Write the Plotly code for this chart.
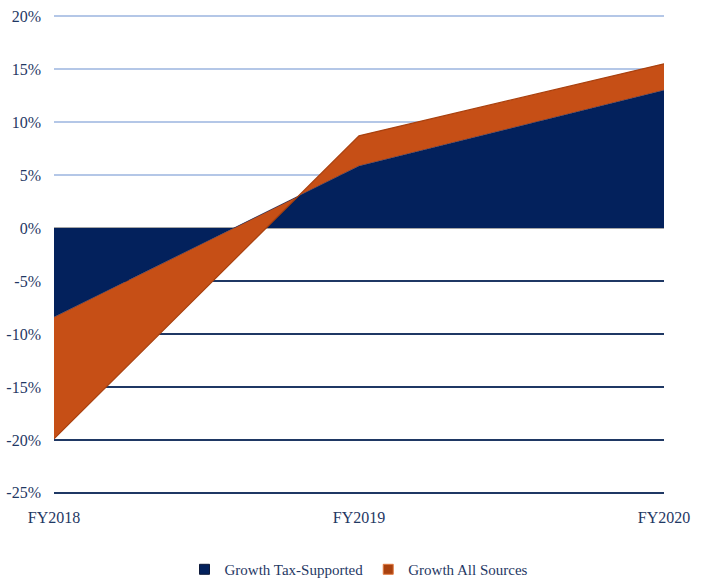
import plotly.graph_objects as go

categories = ["FY2018", "FY2019", "FY2020"]
# Stacked area (Excel-style): navy series, orange series stacked on top of it
growth_tax_supported = [-8.4, 5.85, 13.0]
growth_all_sources = [-11.5, 2.85, 2.5]   # stacked increment above tax-supported

pos_ticks = [0, 5, 10, 15, 20]
neg_ticks = [-25, -20, -15, -10, -5]
pos_labels = [f"{v}%" for v in pos_ticks]
neg_labels = [f"-{abs(v)}%" for v in neg_ticks]

NAVY = "#03215C"
ORANGE = "#C64F16"
TEXT = "#1F3864"
FONT = "'Liberation Serif', 'Times New Roman', Times, serif"
YRANGE = [-25.2, 20.2]
FS = 16

fig = go.Figure()
fig.add_trace(go.Scatter(
    x=categories, y=growth_tax_supported, name="Growth Tax-Supported",
    stackgroup="s", mode="lines", line=dict(color=NAVY, width=0.5),
    fillcolor=NAVY, showlegend=False,
))
fig.add_trace(go.Scatter(
    x=categories, y=growth_all_sources, name="Growth All Sources",
    stackgroup="s", mode="lines", line=dict(color="#A9410F", width=1.2),
    fillcolor=ORANGE, showlegend=False,
))
# legend entries with small square keys
fig.add_trace(go.Scatter(x=[None], y=[None], mode="markers", name="Growth Tax-Supported",
                         marker=dict(symbol="square", size=10, color=NAVY,
                                     line=dict(color="#0E1A3A", width=1))))
fig.add_trace(go.Scatter(x=[None], y=[None], mode="markers", name="Growth All Sources",
                         marker=dict(symbol="square", size=10, color="#A9410F",
                                     line=dict(color="#E07A40", width=1))))
# invisible trace on second axis so its gridlines get drawn
fig.add_trace(go.Scatter(x=categories, y=[None]*3, yaxis="y2", showlegend=False,
                         hoverinfo="skip"))

fig.update_layout(
    width=701, height=579,
    margin=dict(l=54, r=37, t=14, b=84, autoexpand=False),
    paper_bgcolor="white", plot_bgcolor="white",
    font=dict(family=FONT, size=FS, color=TEXT),
    showlegend=True,
    legend=dict(orientation="h", x=0.5, xanchor="center", y=-0.155, yanchor="middle",
                font=dict(family=FONT, size=15, color=TEXT), itemwidth=30,
                traceorder="normal", tracegroupgap=0),
    xaxis=dict(type="category", range=[0, 2], showgrid=False, showline=False,
               zeroline=False, ticks="", tickfont=dict(family=FONT, size=FS, color=TEXT),
               ticklabelstandoff=11, automargin=False),
    yaxis=dict(range=YRANGE, tickvals=pos_ticks, ticktext=pos_labels,
               showgrid=True, gridcolor="#B4C7E7", gridwidth=1.5,
               zeroline=True, zerolinecolor="#A6A6A6", zerolinewidth=2,
               showline=False, ticks="", ticklabelstandoff=12, automargin=False,
               tickfont=dict(family=FONT, size=FS, color=TEXT)),
    yaxis2=dict(range=YRANGE, overlaying="y", side="left", tickvals=neg_ticks,
                ticktext=neg_labels, showgrid=True, gridcolor="#1F3864", gridwidth=2,
                zeroline=False, showline=False, ticks="", ticklabelstandoff=12,
                automargin=False, tickfont=dict(family=FONT, size=FS, color=TEXT)),
)

fig.write_html("out.html", config={"displayModeBar": False},
               post_script="document.body.style.margin='0';")
